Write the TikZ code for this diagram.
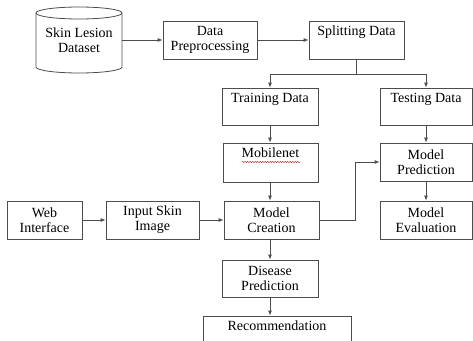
\documentclass[tikz,border=0pt]{standalone}
\usepackage{fontspec}
\setmainfont{Liberation Serif}
\usetikzlibrary{arrows.meta,decorations.pathmorphing}
\begin{document}
\begin{tikzpicture}[x=1pt,y=-1pt,
  box/.style={draw=black!70,line width=0.8pt,rectangle,align=center,inner sep=0pt,
    font=\rmfamily\fontsize{14}{15}\selectfont},
  toplbl/.style={anchor=north,inner sep=0pt,yshift=-5pt,font=\rmfamily\fontsize{14}{15}\selectfont},
  arr/.style={draw=black!70,line width=0.8pt,-{Latex[length=5pt,width=4pt]}},
  ln/.style={draw=black!70,line width=0.8pt}]
\useasboundingbox (0,0) rectangle (473,340);
\clip (0,0) rectangle (473,340);
% cylinder
\draw[ln] (36,13) -- (36,67) arc[start angle=180,end angle=0,x radius=43,y radius=6] -- (122,13);
\draw[ln] (79,13) ellipse [x radius=43,y radius=6];
\node[align=center,inner sep=0pt,minimum width=86,minimum height=66,font=\rmfamily\fontsize{14}{15}\selectfont] (ds) at (79,40) {Skin Lesion\\Dataset};
\node[box,minimum width=94,minimum height=38] (pre) at (210,40) {Data\\Preprocessing};
\node[box,minimum width=95,minimum height=38,label={[toplbl]north:Splitting Data}] (split) at (356.5,40) {};
\node[box,minimum width=96,minimum height=37,label={[toplbl]north:Training Data}] (train) at (270,106.5) {};
\node[box,minimum width=92,minimum height=37,label={[toplbl]north:Testing Data}] (test) at (426,106.5) {};
\node[box,minimum width=95,minimum height=39,label={[toplbl]north:Mobilenet}] (mob) at (270.5,162.5) {};
\node[box,minimum width=92,minimum height=38] (mp) at (426,162) {Model\\Prediction};
\node[box,minimum width=95,minimum height=38] (mc) at (271.5,220) {Model\\Creation};
\node[box,minimum width=92,minimum height=38] (me) at (426,220) {Model\\Evaluation};
\node[box,minimum width=75,minimum height=38] (web) at (44.5,220) {Web\\Interface};
\node[box,minimum width=93,minimum height=38] (inp) at (152.5,220) {Input Skin\\Image};
\node[box,minimum width=96,minimum height=37] (dis) at (270,278.5) {Disease\\Prediction};
\node[box,minimum width=148,minimum height=40,label={[toplbl]north:Recommendation}] (rec) at (277,336) {};
% spell-check underline
\draw[red!80!black,line width=0.4pt,decorate,decoration={snake,amplitude=0.6pt,segment length=2.5pt}] (242,162) -- (300,162);
% connectors
\draw[arr] (ds.east) -- (pre.west);
\draw[arr] (pre.east) -- (split.west);
\draw[ln] (split.south) -- (split.south |- 0,74) coordinate (sp);
\draw[arr] (sp) -| (train.north);
\draw[arr] (sp) -| (test.north);
\draw[arr] (train.south) -- (mob.north -| train.south);
\draw[arr] (test.south) -- (mp.north);
\draw[arr] (mob.south -| train.south) -- (mc.north -| train.south);
\draw[arr] (mp.south) -- (me.north);
\draw[arr] (web.east) -- (inp.west);
\draw[arr] (inp.east) -- (mc.west);
\draw[arr] (mc.east) -- ++(36,0) |- (mp.west);
\draw[arr] (mc.south -| dis.north) -- (dis.north);
\draw[arr] (dis.south) -- (rec.north -| dis.south);
\end{tikzpicture}
\end{document}
